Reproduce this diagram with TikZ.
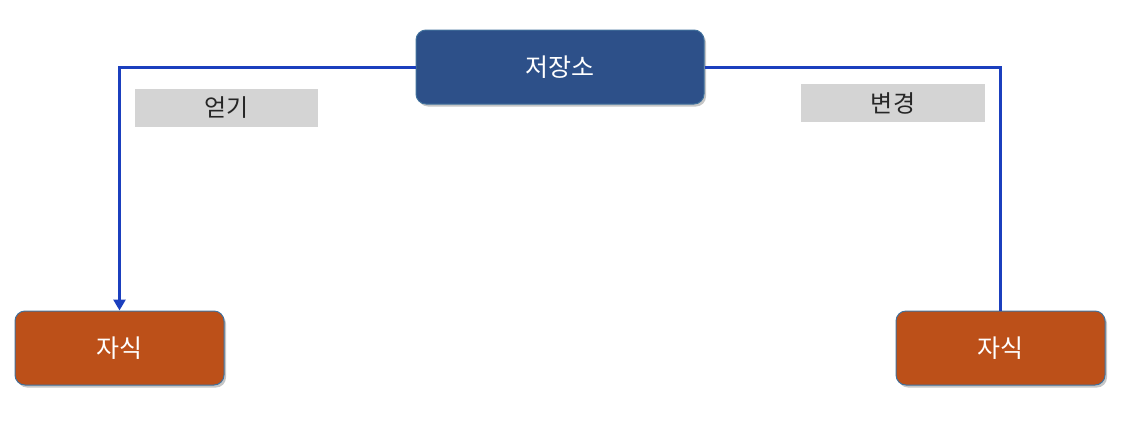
\documentclass[tikz,border=0pt]{standalone}
\usepackage{fontspec}
\setmainfont{Noto Sans CJK KR}
\usetikzlibrary{shadows,arrows.meta}
\definecolor{repoblue}{HTML}{2D5089}
\definecolor{childorange}{HTML}{BC5019}
\definecolor{edgeblue}{HTML}{41719C}
\definecolor{linkblue}{HTML}{1B3FBE}
\definecolor{labelgray}{HTML}{D4D4D4}
\begin{document}
\begin{tikzpicture}[x=1pt,y=-1pt,
  boxnode/.style={rounded corners=10pt, draw=edgeblue, line width=1pt, text=white,
    font=\fontsize{25}{28}\selectfont, inner sep=0pt,
    drop shadow={shadow xshift=2pt, shadow yshift=-2.5pt, opacity=0.45}},
  labelbox/.style={fill=labelgray, inner sep=0pt, font=\fontsize{24}{28}\selectfont, text=black!85},
  link/.style={draw=linkblue, line width=3pt}]
\useasboundingbox (0,0) rectangle (1129,437);
\node[boxnode, fill=repoblue, minimum width=288pt, minimum height=74pt] (repo) at (560,67) {저장소};
\node[boxnode, fill=childorange, minimum width=209pt, minimum height=74pt] (childL) at (119.5,348) {자식};
\node[boxnode, fill=childorange, minimum width=209pt, minimum height=74pt] (childR) at (1000.5,348) {자식};
\node[labelbox, minimum width=183pt, minimum height=38pt] (getlbl) at (226.5,108) {얻기};
\node[labelbox, minimum width=184pt, minimum height=38pt] (chglbl) at (893,103) {변경};
\draw[link, -{Triangle[length=11pt,width=12pt]}] (repo.west) -| (childL.north);
\draw[link] (repo.east) -| (childR.north);
\end{tikzpicture}
\end{document}
